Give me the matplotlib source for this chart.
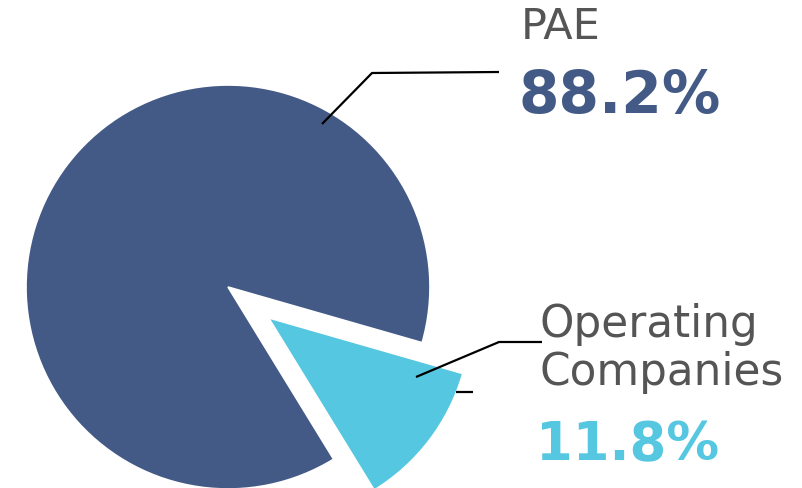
import matplotlib
matplotlib.use("Agg")
import matplotlib.pyplot as plt

# data
labels = ["PAE", "Operating\nCompanies"]
shares = [88.2, 11.8]
pct_text = ["88.2%", "11.8%"]
colors = ["#445a86", "#55c7e0"]

W, H = 802, 488
fig = plt.figure(figsize=(W / 100, H / 100), dpi=100)
ax = fig.add_axes([0, 0, 1, 1])

# pie in pixel-like coordinates (y up); explode is in data units here
cx, cy, r = 228, H - 287, 202
ax.pie(shares, colors=colors, startangle=-16, counterclock=True,
       explode=(0, 51), center=(cx, cy), radius=r,
       wedgeprops=dict(edgecolor="white", linewidth=1.2))

ax.set_xlim(0, W)
ax.set_ylim(0, H)
ax.set_aspect("equal")
ax.axis("off")

def px(x, y):
    return x, H - y

# leader lines
lx, ly = zip(px(322, 124), px(372, 73), px(499, 72))
ax.plot(lx, ly, color="black", lw=1.6, solid_capstyle="butt")
lx, ly = zip(px(416, 377), px(499, 342), px(542, 342))
ax.plot(lx, ly, color="black", lw=1.6, solid_capstyle="butt")
lx, ly = zip(px(456, 392), px(473, 392))
ax.plot(lx, ly, color="black", lw=1.6, solid_capstyle="butt")

grey = "#555555"
ax.text(*px(521, 39), labels[0], color=grey, fontsize=31, va="baseline", ha="left")
ax.text(*px(519, 113), pct_text[0], color=colors[0], fontsize=42,
        fontweight="bold", va="baseline", ha="left")
ax.text(*px(539, 337), "Operating", color=grey, fontsize=31.5, va="baseline", ha="left")
ax.text(*px(539, 385), "Companies", color=grey, fontsize=31.5, va="baseline", ha="left")
ax.text(*px(536, 460), pct_text[1], color=colors[1], fontsize=38,
        fontweight="bold", va="baseline", ha="left")

fig.savefig("out.png", dpi=100)
